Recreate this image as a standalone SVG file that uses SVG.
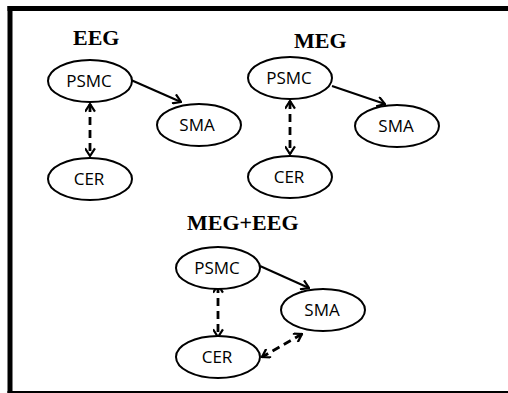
<svg xmlns="http://www.w3.org/2000/svg" width="508" height="393" viewBox="0 0 508 393">
<defs>
<style>
.frame{stroke:#000;fill:none}
.node ellipse{fill:#fff;stroke:#000;stroke-width:2}
.node text{font-family:"Open Sans","Liberation Sans",Arial,sans-serif;font-size:17px;fill:#000;text-anchor:middle}
.title{font-family:"Liberation Serif","Times New Roman",serif;font-size:22px;font-weight:bold;fill:#000}
.solid{stroke:#000;stroke-width:2;fill:none;marker-end:url(#arr)}
.dash{stroke:#000;stroke-width:2.8;fill:none;stroke-dasharray:8,5;marker-start:url(#arr);marker-end:url(#arr)}
</style>
<marker id="arr" viewBox="0 0 10 10" refX="9" refY="5" markerWidth="11" markerHeight="11" markerUnits="userSpaceOnUse" orient="auto-start-reverse">
<path d="M2,0.5 L9,5 L2,9.5" fill="none" stroke="#000" stroke-width="2" stroke-dasharray="none"/>
</marker>
</defs>
<rect width="508" height="393" fill="#fff"/>
<g id="frame">
<line class="frame" x1="7.5" y1="8.5" x2="508" y2="8.5" stroke-width="5"/>
<line class="frame" x1="10" y1="6" x2="10" y2="393" stroke-width="5"/>
<line class="frame" x1="7.5" y1="392" x2="508" y2="392" stroke-width="2"/>
</g>
<g id="titles">
<text class="title" x="73" y="45">EEG</text>
<text class="title" x="294" y="48">MEG</text>
<text class="title" x="187" y="230">MEG+EEG</text>
</g>
<g id="connectors">
<line class="solid" x1="131" y1="80" x2="181" y2="102"/>
<line class="dash" x1="90" y1="104" x2="90" y2="156"/>
<line class="solid" x1="332" y1="86" x2="385" y2="104"/>
<line class="dash" x1="290" y1="101" x2="290" y2="154"/>
<line class="solid" x1="260" y1="266" x2="309" y2="288"/>
<line class="dash" x1="218" y1="285" x2="218" y2="337"/>
<line class="dash" x1="302" y1="334" x2="262" y2="357"/>
</g>
<g id="eeg-psmc" class="node"><ellipse cx="90" cy="81" rx="42" ry="21"/><text x="89" y="87">PSMC</text></g>
<g id="eeg-sma" class="node"><ellipse cx="199" cy="125" rx="42" ry="21"/><text x="197" y="131">SMA</text></g>
<g id="eeg-cer" class="node"><ellipse cx="90" cy="179" rx="42" ry="21"/><text x="89" y="185">CER</text></g>
<g id="meg-psmc" class="node"><ellipse cx="290" cy="78" rx="42" ry="21"/><text x="289" y="84">PSMC</text></g>
<g id="meg-sma" class="node"><ellipse cx="397" cy="126" rx="42" ry="21"/><text x="396" y="132">SMA</text></g>
<g id="meg-cer" class="node"><ellipse cx="290" cy="177" rx="42" ry="21"/><text x="289" y="183">CER</text></g>
<g id="both-psmc" class="node"><ellipse cx="218" cy="268" rx="42" ry="21"/><text x="217" y="274">PSMC</text></g>
<g id="both-sma" class="node"><ellipse cx="323" cy="310" rx="42" ry="21"/><text x="322" y="316">SMA</text></g>
<g id="both-cer" class="node"><ellipse cx="218" cy="357" rx="42" ry="21"/><text x="217" y="363">CER</text></g>
</svg>
